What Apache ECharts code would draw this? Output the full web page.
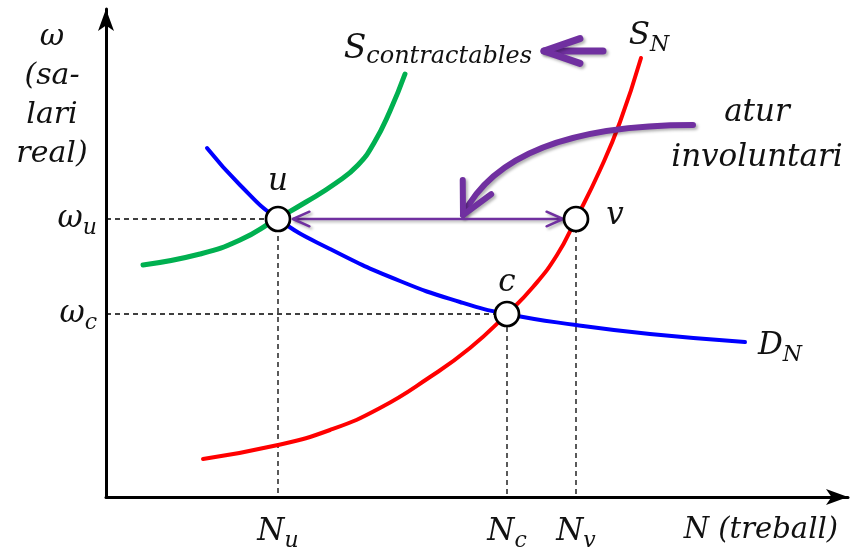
<!DOCTYPE html>
<html>
<head>
<meta charset="utf-8">
<script src="https://cdn.jsdelivr.net/npm/echarts@6/dist/echarts.min.js"></script>
<style>
  html, body { margin: 0; padding: 0; background: #fff; }
  #chart { width: 851px; height: 548px; }
</style>
</head>
<body>
<div id="chart"></div>
<script>
// corbes del mercat de treball (unitats arbitràries, origen als eixos)
const demandCurve = [[101,349],[134,312],[172,278],[224,248],[294,216],[354,195],[401,183],[470,172],[544,163],[639,155]];
const supplyCurve = [[97,38],[172,52],[224,67],[274,89],[324,120],[364,149],[401,183],[427,210],[451,242],[470,278],[494,327],[514,375],[535,439]];
const hiredCurve = [[37,232],[94,243],[134,257],[169,277],[200,295],[230,314],[252,332],[268,354],[284,386],[299,423]];

// punts u, c, v
const pointNames = ['u', 'c', 'v'];
const pointCoords = [[172,278],[401,183],[470,278]];

// fletxes
const shiftArrow = [[497,446],[438,446]];
const aturArrow = [[587,372],[402,372],[357,282]];
const gapArrow = [[187,278],[457,278]];

// títol de l'eix vertical, línia a línia
const yTitleLines = ['ω', '(sa-', 'lari', 'real)'];

const FONT = 'DejaVu Serif';
const PURPLE = '#7030A0';
const INK = '#111';

const rich = {
    b: { fontFamily: FONT, fontStyle: 'italic', fontSize: 31, lineHeight: 40, color: INK },
    s: { fontFamily: FONT, fontStyle: 'italic', fontSize: 22, lineHeight: 20, verticalAlign: 'bottom', color: INK },
    bl: { fontFamily: FONT, fontStyle: 'italic', fontSize: 33, lineHeight: 40, color: INK },
    sl: { fontFamily: FONT, fontStyle: 'italic', fontSize: 24, lineHeight: 20, verticalAlign: 'bottom', color: INK }
};
const sub = (main, s) => `{b|${main}}{s|${s}}`;

// dashed guides from each point to the axes
const guides = pointCoords.map((p, i) => {
    const pts = pointNames[i] === 'v' ? [[p[0], p[1]], [p[0], 0]] : [[0, p[1]], [p[0], p[1]], [p[0], 0]];
    return {
        type: 'line', data: pts, symbol: 'none', silent: true, z: 1,
        lineStyle: { color: '#000', width: 1.3, type: [5, 4] }
    };
});

const arrowStyles = [
    { width: 7, head: 38, angle: 19, both: false },
    { width: 6, head: 35, angle: 27, both: false },
    { width: 2.5, head: 18, angle: 24, both: true }
];
const mid = (a, b) => [(a[0] + b[0]) / 2, (a[1] + b[1]) / 2];
const arrowData = [
    [...shiftArrow[0], ...mid(shiftArrow[0], shiftArrow[1]), ...shiftArrow[1]],
    [...aturArrow[0], ...aturArrow[1], ...aturArrow[2]],
    [...gapArrow[0], ...mid(gapArrow[0], gapArrow[1]), ...gapArrow[1]]
];

function headPoints(tip, from, len, angDeg) {
    const dx = from[0] - tip[0], dy = from[1] - tip[1];
    const d = Math.hypot(dx, dy);
    const ux = dx / d, uy = dy / d;
    const a = angDeg * Math.PI / 180;
    const rot = (s) => [tip[0] + len * (ux * Math.cos(s) - uy * Math.sin(s)),
                        tip[1] + len * (ux * Math.sin(s) + uy * Math.cos(s))];
    return [rot(a), tip, rot(-a)];
}

function renderArrow(params, api) {
    const p0 = api.coord([api.value(0), api.value(1)]);
    const pc = api.coord([api.value(2), api.value(3)]);
    const p1 = api.coord([api.value(4), api.value(5)]);
    const st = arrowStyles[params.dataIndex];
    const style = {
        stroke: PURPLE, fill: null, lineWidth: st.width, lineCap: 'round', lineJoin: 'round',
        shadowColor: 'rgba(0,0,0,0.3)', shadowBlur: 3, shadowOffsetX: 2, shadowOffsetY: 2
    };
    const children = [{
        type: 'bezierCurve',
        shape: { x1: p0[0], y1: p0[1], cpx1: pc[0], cpy1: pc[1], x2: p1[0], y2: p1[1] },
        style: style
    }, {
        type: 'polyline', shape: { points: headPoints(p1, pc, st.head, st.angle) }, style: style
    }];
    if (st.both) {
        children.push({ type: 'polyline', shape: { points: headPoints(p0, pc, st.head, st.angle) }, style: style });
    }
    return { type: 'group', children: children };
}

const plainText = { fontFamily: FONT, fontStyle: 'italic', color: INK, align: 'center' };

// text annotations anchored to curve ends / arrows / axis top
const notes = [
    { value: supplyCurve[supplyCurve.length - 1], label: { formatter: sub('S', 'N'), position: 'top', distance: 2, offset: [8, 0] } },
    { value: demandCurve[demandCurve.length - 1], label: { formatter: sub('D', 'N'), position: 'right', distance: 13, offset: [0, 4] } },
    { value: shiftArrow[1], label: { formatter: '{bl|S}{sl|contractables}', position: 'left', distance: 12, offset: [0, -2] } },
    { value: aturArrow[0], label: Object.assign({ formatter: 'atur\ninvoluntari', position: 'inside', offset: [64, 10], lineHeight: 45, fontSize: 31 }, plainText) },
    ...yTitleLines.map((t, i) => ({
        value: [0, 479],
        label: Object.assign({ formatter: t, position: 'inside', offset: [-54, 19 + 39 * i], fontSize: 30 }, plainText)
    }))
];

const pointLabel = {
    u: { position: 'top', distance: 4 },
    c: { position: 'top', distance: -2 },
    v: { position: 'right', distance: 17, offset: [0, -3] }
};

const chart = echarts.init(document.getElementById('chart'));

const curve = (data, color, width) => ({
    type: 'line', data: data, symbol: 'none', smooth: 0.5, z: 3,
    lineStyle: { color: color, width: width, cap: 'round' }
});

const xLabels = {}; pointCoords.forEach((p, i) => { xLabels[p[0]] = pointNames[i]; });
const yLabels = {}; pointCoords.forEach((p, i) => { if (pointNames[i] !== 'v') yLabels[p[1]] = pointNames[i]; });

chart.setOption({
    animation: false,
    grid: { left: 106, right: 3, top: 9, bottom: 51, containLabel: false, outerBoundsMode: 'none' },
    xAxis: {
        type: 'value', min: 0, max: 742,
        name: 'N (treball)', nameLocation: 'end', nameGap: -10,
        nameTextStyle: { fontFamily: FONT, fontStyle: 'italic', fontSize: 29, color: INK, align: 'right', verticalAlign: 'top', lineHeight: 36, padding: [15, 0, 0, 0] },
        axisLine: { lineStyle: { color: '#000', width: 3 }, symbol: ['none', 'arrow'], symbolSize: [12, 22] },
        axisTick: { show: false },
        splitLine: { show: false },
        axisLabel: {
            customValues: Object.keys(xLabels).map(Number),
            formatter: v => sub('N', xLabels[v]), margin: 15, rich: rich
        }
    },
    yAxis: {
        type: 'value', min: 0, max: 488,
        axisLine: { lineStyle: { color: '#000', width: 3 }, symbol: ['none', 'arrow'], symbolSize: [12, 22] },
        axisTick: { show: false },
        splitLine: { show: false },
        axisLabel: {
            customValues: Object.keys(yLabels).map(Number),
            formatter: v => sub('ω', yLabels[v]), margin: 9, rich: rich
        }
    },
    series: [
        ...guides,
        curve(hiredCurve, '#00B050', 5),
        curve(demandCurve, '#0000FF', 4),
        curve(supplyCurve, '#FF0000', 4),
        {
            type: 'custom', renderItem: renderArrow, data: arrowData, z: 4, silent: true, clip: false
        },
        {
            type: 'scatter', z: 6, symbol: 'circle', symbolSize: 24,
            itemStyle: { color: '#fff', borderColor: '#000', borderWidth: 2.7, opacity: 1 },
            data: pointCoords.map((p, i) => ({
                value: p,
                label: Object.assign({ show: true, formatter: `{b|${pointNames[i]}}`, rich: rich }, pointLabel[pointNames[i]])
            }))
        },
        {
            type: 'scatter', z: 7, symbolSize: 0, silent: true, itemStyle: { opacity: 1 },
            data: notes.map(n => ({ value: n.value, label: Object.assign({ show: true, rich: rich }, n.label) }))
        }
    ]
});

window.addEventListener('resize', () => chart.resize());
</script>
</body>
</html>
